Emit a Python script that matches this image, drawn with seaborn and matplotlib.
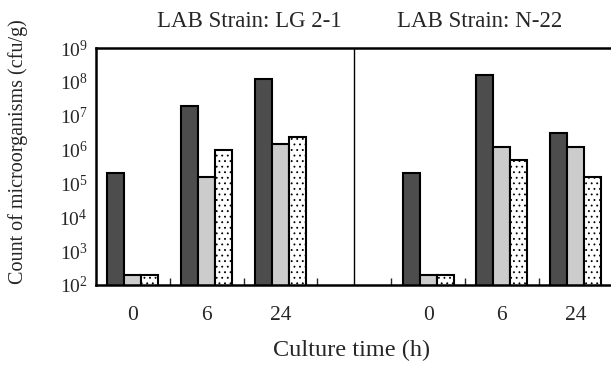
"""
Viable counts of microorganisms during culture with two LAB strains.
Log-scale grouped bar chart, two strain panels sharing one plot area.
"""
import matplotlib
matplotlib.use("Agg")
import matplotlib.pyplot as plt
import seaborn as sns
import numpy as np
import pandas as pd
from matplotlib.ticker import LogLocator, LogFormatterSciNotation, FixedLocator, NullLocator

# --- data (cfu/g) ----------------------------------------------------------
times = ["0", "6", "24"]
strains = ["LG 2-1", "N-22"]
series = ["Series 1", "Series 2", "Series 3"]

lg21_s1 = [2.0e5, 2.0e7, 1.2e8]
lg21_s2 = [2.0e2, 1.6e5, 1.5e6]
lg21_s3 = [2.0e2, 1.0e6, 2.4e6]

n22_s1 = [2.0e5, 1.6e8, 3.1e6]
n22_s2 = [2.0e2, 1.2e6, 1.2e6]
n22_s3 = [2.0e2, 4.9e5, 1.6e5]

colors = ["#4d4d4d", "#cccccc", "#ffffff"]

# --- long-form table ---------------------------------------------------------
rows = []
for strain, vals in zip(strains, [(lg21_s1, lg21_s2, lg21_s3), (n22_s1, n22_s2, n22_s3)]):
    for name, values in zip(series, vals):
        for t, v in zip(times, values):
            rows.append({"slot": f"{strain}|{t}", "series": name, "count": v})
df = pd.DataFrame(rows)

# an empty slot separates the two strain panels
order = [f"{strains[0]}|{t}" for t in times] + ["gap"] + [f"{strains[1]}|{t}" for t in times]
tick_labels = times + [""] + times

# --- plot --------------------------------------------------------------------
sns.set_style("white")
plt.rcParams["font.family"] = ["Liberation Serif", "DejaVu Serif"]
plt.rcParams["hatch.linewidth"] = 0.6

fig = plt.figure(figsize=(6.11, 3.66), dpi=100)
ax = fig.add_axes([96 / 611, 81 / 366, 516.6 / 611, 237 / 366])

sns.barplot(data=df, x="slot", y="count", hue="series", order=order, hue_order=series,
            palette=colors, saturation=1, width=0.69, edgecolor="black", linewidth=1.5,
            legend=False, ax=ax)

# dotted fill for the third series
for bar in ax.containers[2]:
    bar.set_facecolor("white")
    bar.set_hatch("...")

ax.set_yscale("log")
ax.set_ylim(1e2, 1e9)
ax.set_xlim(-0.5, 6.5)

ax.yaxis.set_major_locator(LogLocator(base=10, numticks=20))
ax.yaxis.set_major_formatter(LogFormatterSciNotation())
ax.yaxis.set_minor_locator(NullLocator())
ax.tick_params(axis="y", length=0, pad=6, labelsize=14)

ax.set_xticks(range(len(order)))
ax.set_xticklabels(tick_labels)
ax.xaxis.set_minor_locator(FixedLocator(np.arange(0.5, len(order) - 1, 1.0)))
ax.tick_params(axis="x", which="major", length=0, pad=15, labelsize=15.5)
ax.tick_params(axis="x", which="minor", direction="in", length=5, width=1, bottom=True)

for side in ["left", "top", "bottom"]:
    ax.spines[side].set_linewidth(1.8)
    ax.spines[side].set_color("black")
ax.spines["right"].set_visible(False)

# divider between the two strain panels
ax.axvline(3, color="black", linewidth=1)

ax.set_xlabel("Culture time (h)", fontsize=17.5)
ax.xaxis.set_label_coords(0.494, -0.232)
ax.set_ylabel("Count of microorganisms (cfu/g)", fontsize=14.5, va="center")
ax.yaxis.set_label_coords(-0.150, 0.561)

for x, strain in zip([0.296, 0.742], strains):
    ax.text(x, 1.090, f"LAB Strain: {strain}", transform=ax.transAxes,
            ha="center", va="baseline", fontsize=16.5)

plt.savefig("out.png", dpi=100)
plt.close()
